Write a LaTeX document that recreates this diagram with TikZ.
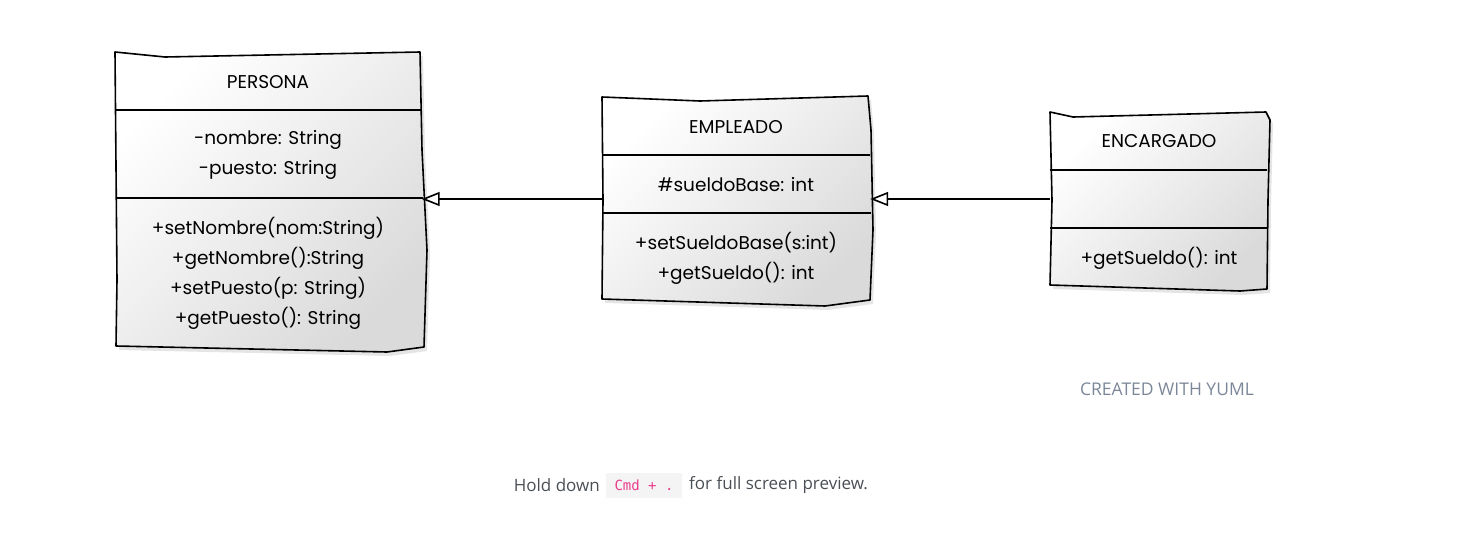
\documentclass[tikz,border=0pt]{standalone}
\usepackage{fontspec}
\setmainfont{Open Sans}
\newfontfamily\boxfont{Poppins}
\newfontfamily\codefont{DejaVu Sans Mono}
\usetikzlibrary{arrows.meta}
\definecolor{boxgray}{HTML}{DADADA}
\definecolor{credit}{HTML}{7B8799}
\definecolor{hint}{HTML}{4A4F55}
\definecolor{codepink}{HTML}{E83E8C}
\definecolor{codebg}{HTML}{F4F4F4}
\begin{document}
\begin{tikzpicture}[x=1pt,y=-1pt,
  classbody/.style={draw=black, line width=1.6pt, line join=round,
    left color=white, right color=boxgray, shading angle=45},
  classshadow/.style={fill=black, opacity=0.10},
  sepline/.style={line width=1.6pt},
  classtext/.style={font=\boxfont\fontsize{18.5}{30}\selectfont, align=center, inner sep=0pt},
  anchorbox/.style={inner sep=0pt, minimum width=#1},
  inh/.style={line width=1.6pt, -{Triangle[open, length=18pt, width=14pt, line width=1.6pt]}}
]
\useasboundingbox (0,0) rectangle (1459,557);

% ---------- PERSONA ----------
\fill[classshadow, xshift=3pt, yshift=-4pt] (115,52) -- (165,57) -- (420,52) -- (422,150) -- (427,250) -- (424,347) -- (387,352) -- (116,346) -- (117,280) -- cycle;
\path[classbody] (115,52) -- (165,57) -- (420,52) -- (422,150) -- (427,250) -- (424,347) -- (387,352) -- (116,346) -- (117,280) -- cycle;
\draw[sepline] (116,110) -- (421,110);
\draw[sepline] (116,198) -- (423,198);
\node[anchorbox=306pt, minimum height=296pt] (persona) at (268.5,199) {};
\node[classtext] (personaname) at (268,82) {PERSONA};
\node[classtext] (personaattr) at (268,155) {-nombre: String\\-puesto: String};
\node[classtext] (personaops) at (268,273) {+setNombre(nom:String)\\+getNombre():String\\+setPuesto(p: String)\\+getPuesto(): String};

% ---------- EMPLEADO ----------
\fill[classshadow, xshift=3pt, yshift=-4pt] (602,97) -- (700,101) -- (868,96) -- (871,130) -- (873,230) -- (870,300) -- (825,306) -- (602,299) -- (603,200) -- cycle;
\path[classbody] (602,97) -- (700,101) -- (868,96) -- (871,130) -- (873,230) -- (870,300) -- (825,306) -- (602,299) -- (603,200) -- cycle;
\draw[sepline] (602,155) -- (870,155);
\draw[sepline] (602,213) -- (871,213);
\node[anchorbox=268pt, minimum height=200pt] (empleado) at (736,199) {};
\node[classtext] (empleadoname) at (736,127) {EMPLEADO};
\node[classtext] (empleadoattr) at (736,185) {\#sueldoBase: int};
\node[classtext] (empleadoops) at (736,258) {+setSueldoBase(s:int)\\+getSueldo(): int};

% ---------- ENCARGADO ----------
\fill[classshadow, xshift=3pt, yshift=-4pt] (1050,112) -- (1073,117) -- (1266,112) -- (1270,120) -- (1268,200) -- (1267,289) -- (1240,291) -- (1050,285) -- (1052,200) -- cycle;
\path[classbody] (1050,112) -- (1073,117) -- (1266,112) -- (1270,120) -- (1268,200) -- (1267,289) -- (1240,291) -- (1050,285) -- (1052,200) -- cycle;
\draw[sepline] (1050,170) -- (1267,170);
\draw[sepline] (1050,228) -- (1268,228);
\node[anchorbox=218pt, minimum height=178pt] (encargado) at (1159,199) {};
\node[classtext] (encargadoname) at (1159,141) {ENCARGADO};
\node[classtext] (encargadoops) at (1159,258) {+getSueldo(): int};

% ---------- inheritance ----------
\draw[inh] (empleado.west) -- (empleado.west -| persona.east);
\draw[inh] (encargado.west) -- (encargado.west -| empleado.east);

% ---------- credits ----------
\node[font=\fontsize{17.5}{20}\selectfont, text=credit, inner sep=0pt] (credit) at (1167,389) {CREATED WITH YUML};
\node[fill=codebg, minimum width=76pt, minimum height=25pt, inner sep=0pt] (kbd) at (644,485.5) {\codefont\fontsize{14}{16}\selectfont\textcolor{codepink}{Cmd + .}};
\node[font=\fontsize{17}{20}\selectfont, text=hint, anchor=east, inner sep=0pt] (hold) at (600,485.5) {Hold down};
\node[font=\fontsize{17}{20}\selectfont, text=hint, anchor=west, inner sep=0pt] (fullscreen) at (689,485.5) {for full screen preview.};
\end{tikzpicture}
\end{document}
